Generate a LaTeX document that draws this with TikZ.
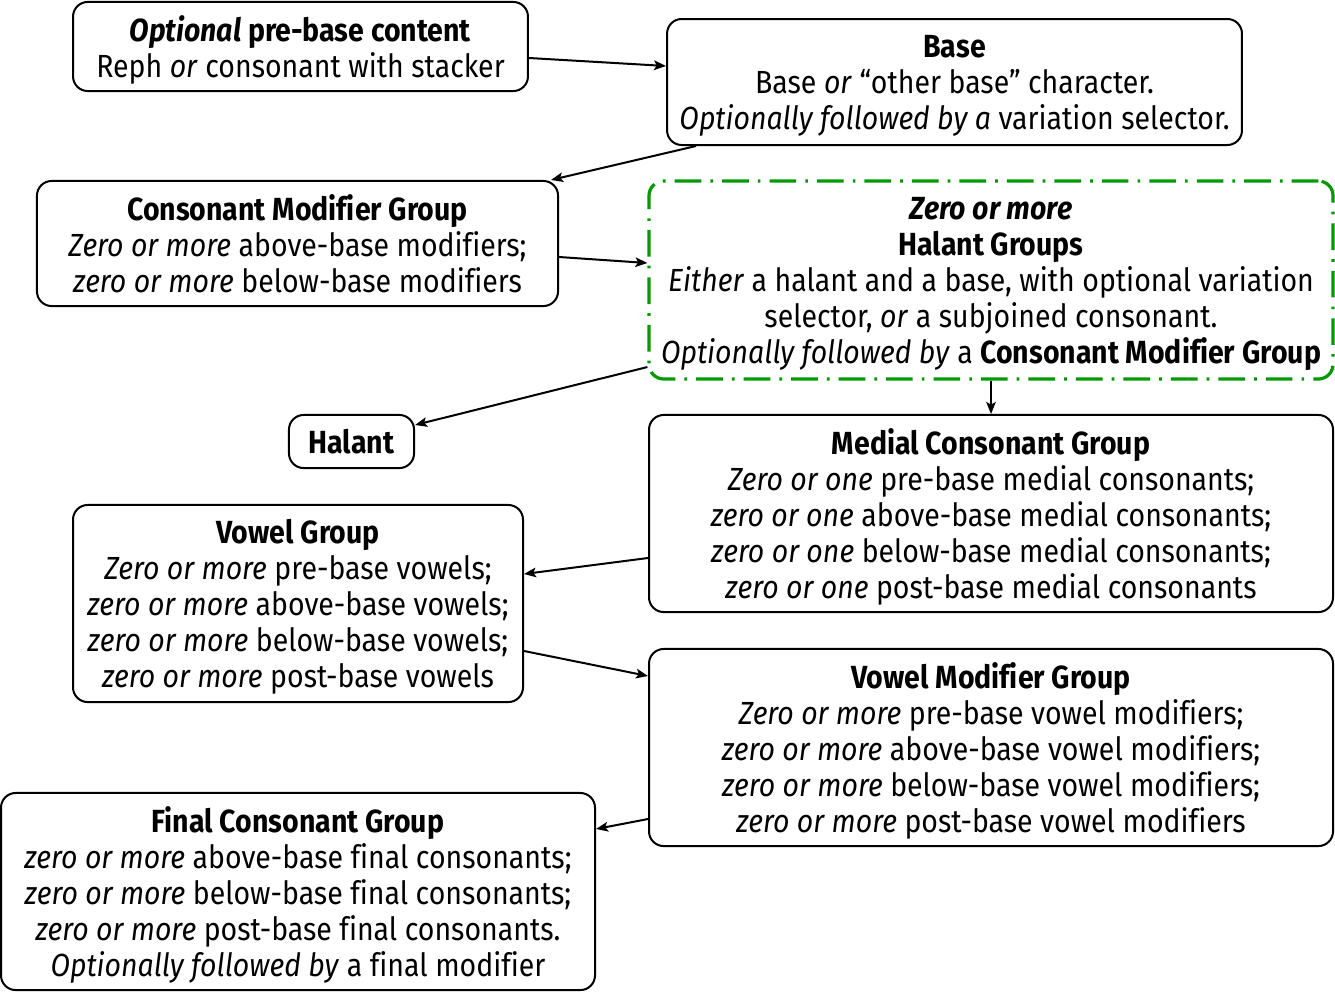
\documentclass[tikz,border=0pt]{standalone}
\usepackage{fontspec}
\setmainfont{Fira Sans}[FakeStretch=0.89,Ligatures=NoCommon]
\usetikzlibrary{arrows.meta,calc}
\definecolor{hgreen}{RGB}{0,153,0}
\begin{document}
\begin{tikzpicture}[x=.375pt,y=-.375pt,line width=.75pt,
  every node/.style={font=\fontsize{12}{13.5}\selectfont,align=center,inner sep=0pt,text depth=0pt},
  box/.style={draw,rounded corners=5.5pt},
  link/.style={-{Stealth[length=4.5pt,width=3.6pt,inset=1pt]}}]
  \path[use as bounding box] (0,0) rectangle (1335,992);
  \node[box,minimum width=170.6pt,minimum height=33.4pt] (pre) at (300.5,46.5)
    {\textbf{\textit{Optional} pre-base content}\\Reph \textit{or} consonant with stacker};
  \node[box,minimum width=215.6pt,minimum height=47.25pt] (base) at (954.5,82)
    {\textbf{Base}\\Base \textit{or} “other base” character.\\\textit{Optionally followed by a} variation selector.};
  \node[box,minimum width=195.4pt,minimum height=46.9pt] (cmg) at (297.5,243.5)
    {\textbf{Consonant Modifier Group}\\\textit{Zero or more} above-base modifiers;\\\textit{zero or more} below-base modifiers};
  \node[draw=hgreen,line width=1.2pt,rounded corners=5.5pt,dash pattern=on 10pt off 3.4pt on 1pt off 3.4pt,
    minimum width=256.5pt,minimum height=74.25pt] (hgrp) at (991,280)
    {\textbf{\textit{Zero or more}}\\\textbf{Halant Groups}\\\textit{Either} a halant and a base, with optional variation\\selector, \textit{or} a subjoined consonant.\\\textit{Optionally followed by} a \textbf{Consonant Modifier Group}};
  \node[box,minimum width=46.9pt,minimum height=19.9pt] (halant) at (351.5,441.5) {\textbf{Halant}};
  \node[box,minimum width=256.5pt,minimum height=73.9pt] (medial) at (991,513.5)
    {\textbf{Medial Consonant Group}\\\textit{Zero or one} pre-base medial consonants;\\\textit{zero or one} above-base medial consonants;\\\textit{zero or one} below-base medial consonants;\\\textit{zero or one} post-base medial consonants};
  \node[box,minimum width=168.75pt,minimum height=73.9pt] (vowel) at (298,603.5)
    {\textbf{Vowel Group}\\\textit{Zero or more} pre-base vowels;\\\textit{zero or more} above-base vowels;\\\textit{zero or more} below-base vowels;\\\textit{zero or more} post-base vowels};
  \node[box,minimum width=256.5pt,minimum height=73.9pt] (vmod) at (991,747.5)
    {\textbf{Vowel Modifier Group}\\\textit{Zero or more} pre-base vowel modifiers;\\\textit{zero or more} above-base vowel modifiers;\\\textit{zero or more} below-base vowel modifiers;\\\textit{zero or more} post-base vowel modifiers};
  \node[box,minimum width=222.75pt,minimum height=73.9pt] (final) at (298,891.5)
    {\textbf{Final Consonant Group}\\\textit{zero or more} above-base final consonants;\\\textit{zero or more} below-base final consonants;\\\textit{zero or more} post-base final consonants.\\\textit{Optionally followed by} a final modifier};
  \draw[link] ($(pre.east)+(0,11.5)$) -- ($(base.west)+(0,-16)$);
  \draw[link] ($(base.south west)+(30,0)$) -- ($(cmg.north east)+(-8,0)$);
  \draw[link] ($(cmg.east)+(0,13.5)$) -- ($(hgrp.west)+(0,-17)$);
  \draw[link] ($(hgrp.west)+(0,87)$) -- ($(halant.east)+(0,-16.5)$);
  \draw[link] (hgrp.south) -- (medial.north);
  \draw[link] ($(medial.west)+(0,44.5)$) -- ($(vowel.east)+(0,-29.5)$);
  \draw[link] ($(vowel.east)+(0,47.5)$) -- ($(vmod.west)+(0,-71.5)$);
  \draw[link] ($(vmod.west)+(0,71.5)$) -- ($(final.east)+(0,-62.5)$);
\end{tikzpicture}
\end{document}
